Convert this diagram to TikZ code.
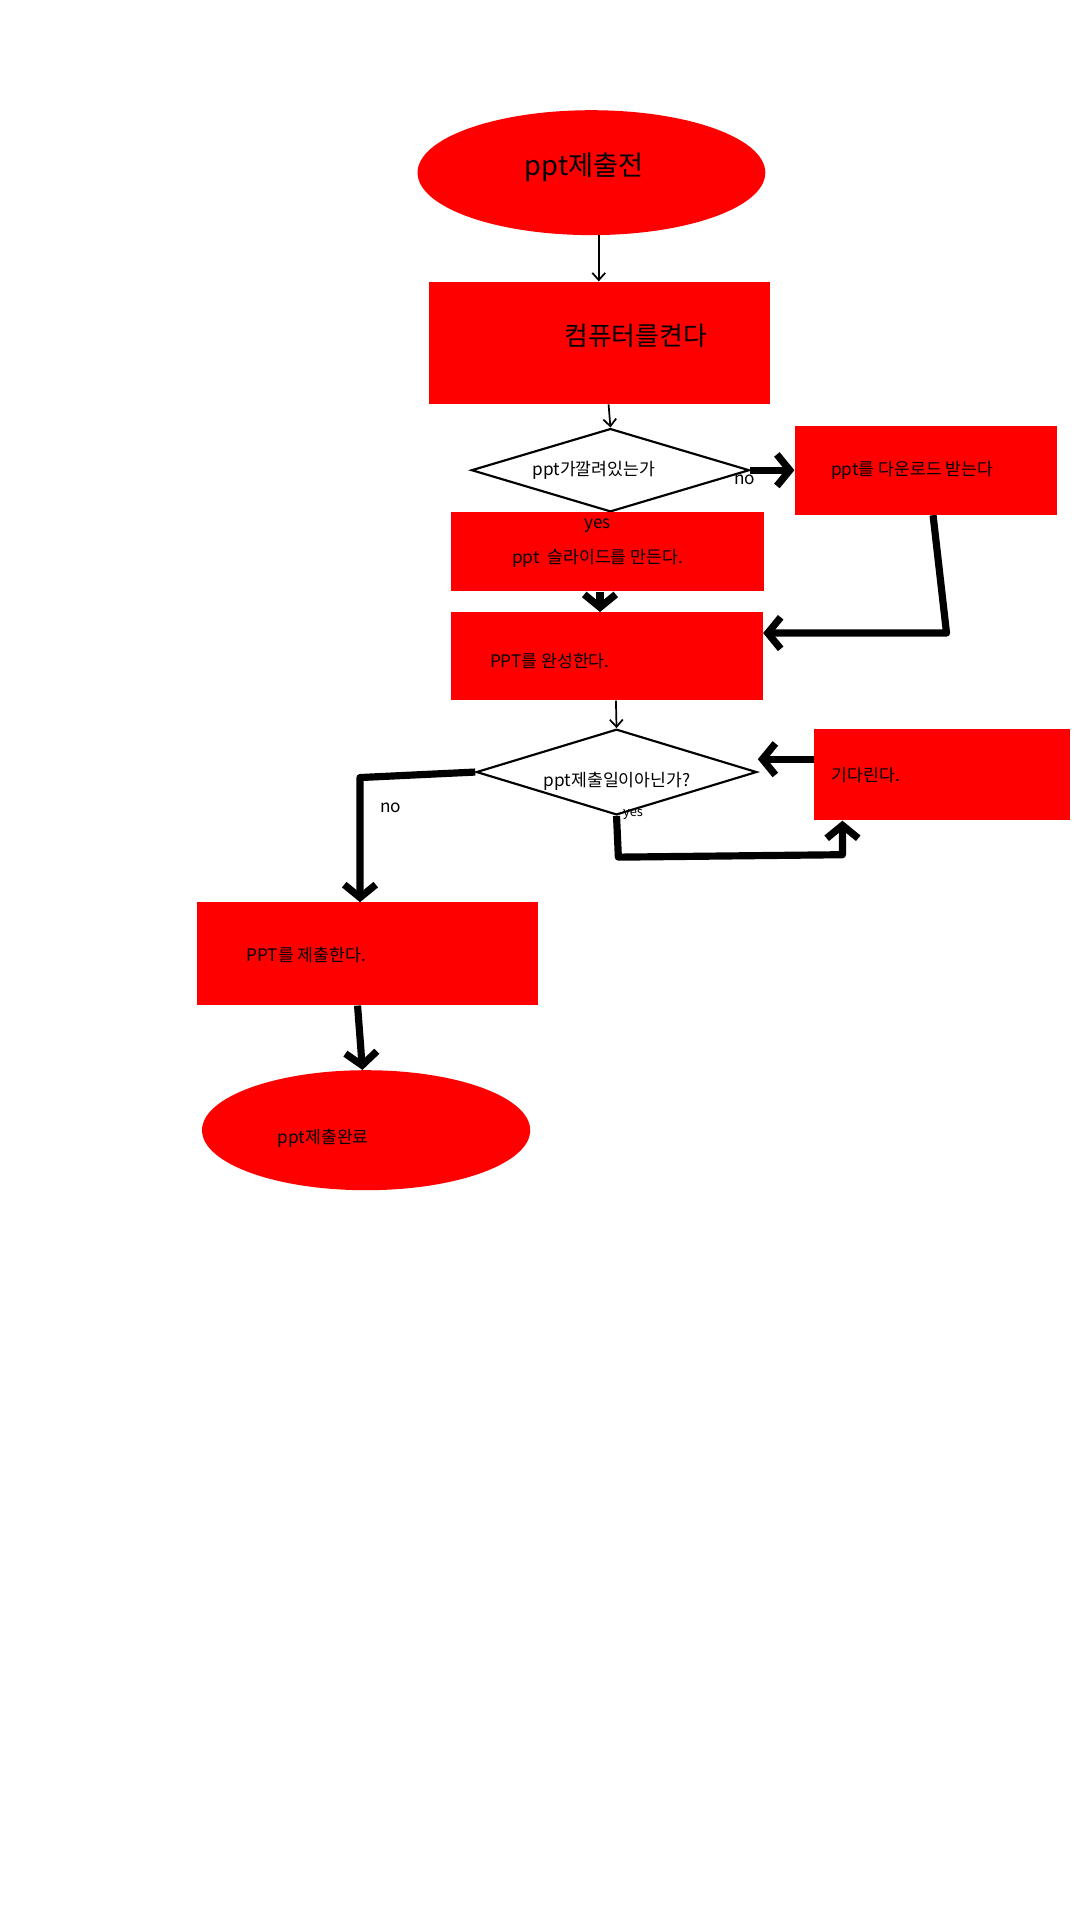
\documentclass[tikz,border=0pt]{standalone}
\usepackage{fontspec}
\setmainfont{Noto Sans CJK KR}
\usetikzlibrary{shapes.geometric,arrows.meta}
\begin{document}
\begin{tikzpicture}[x=0.03cm,y=-0.03cm]

 \tikzset{
    term/.style={ellipse, fill=red, draw=none, inner sep=0mm},
    box/.style={rectangle, fill=red, draw=none, inner sep=0mm},
    cond/.style={diamond, draw=black, line width=1.5pt, fill=white, inner sep=0mm},
    thin/.style={draw=black, line width=1.2pt, -{Straight Barb[length=5pt,width=9pt]}},
    thick/.style={draw=black, line width=5pt, line join=round, -{Straight Barb[length=9pt,width=22pt]}},
    lbl/.style={font=\fontsize{12}{14}\selectfont}
  }

\useasboundingbox (0,0) rectangle (880,1568);

\node[term, minimum width=284*0.03cm, minimum height=102*0.03cm] (start) at (483,141) {};
\node[box, minimum width=279*0.03cm, minimum height=100*0.03cm] (pc) at (489.5,280) {};
\node[cond, minimum width=227*0.03cm, minimum height=68*0.03cm] (q1) at (498.5,384) {};
\node[box, minimum width=214*0.03cm, minimum height=73*0.03cm] (down) at (756,384) {};
\node[box, minimum width=256*0.03cm, minimum height=65*0.03cm] (make) at (496,450.5) {};
\node[box, minimum width=255*0.03cm, minimum height=72*0.03cm] (done) at (495.5,536) {};
\node[cond, minimum width=229*0.03cm, minimum height=70*0.03cm] (q2) at (503.5,630.5) {};
\node[box, minimum width=209*0.03cm, minimum height=75*0.03cm] (wait) at (769.5,632.5) {};
\node[box, minimum width=278*0.03cm, minimum height=84*0.03cm] (submit) at (300,779) {};
\node[term, minimum width=268*0.03cm, minimum height=98*0.03cm] (end) at (299,923) {};

\node[font=\fontsize{19}{22}\selectfont] (tstart) at (477,137) {ppt제출전};
\node[font=\fontsize{18}{21}\selectfont] (tpc) at (519,274) {컴퓨터를켠다};
\node[lbl] (tq1) at (485,384) {ppt가깔려있는가};
\node[lbl] (tdown) at (745,384) {ppt를 다운로드 받는다};
\node[lbl] (tmake) at (488,456) {ppt \ 슬라이드를 만든다.};
\node[lbl] (tdone) at (449,540) {PPT를 완성한다.};
\node[lbl] (tq2) at (504,638) {ppt제출일이아닌가?};
\node[lbl] (twait) at (707,633) {기다린다.};
\node[lbl] (tsubmit) at (250,780) {PPT를 제출한다.};
\node[lbl] (tend) at (264,930) {ppt제출완료};

\node[lbl] (no1) at (608,392) {no};
\node[lbl] (yes1) at (488,429) {yes};
\node[font=\fontsize{9}{10}\selectfont] (yes2) at (517,665) {yes};
\node[lbl] (no2) at (319,660) {no};

\coordinate (c1) at (773,517);
\coordinate (c2) at (505,700);
\coordinate (c3) at (688,698);
\coordinate (c4) at (294,635);

\draw[thin] (start.south) ++(6,0) -- (pc.north -| 489,0);
\draw[thin] (pc.south -| 497,0) -- (q1.north);
\draw[thick] (q1.east) -- (down.west);
\draw[thick] (make.south -| 490,0) -- (done.north -| 490,0);
\draw[thick] (down.south -| 762,0) -- (c1) -- (done.east |- c1);
\draw[thin] (done.south -| 503,0) -- (q2.north);
\draw[thick] (wait.west |- 0,620) -- (q2.east |- 0,620);
\draw[thick] (q2.south) -- (c2) -- (c3) -- (wait.south -| c3);
\draw[thick] (q2.west) -- (c4) -- (submit.north -| c4);
\draw[thick] (submit.south -| 292,0) -- (end.north -| 296,0);
\end{tikzpicture}
\end{document}
